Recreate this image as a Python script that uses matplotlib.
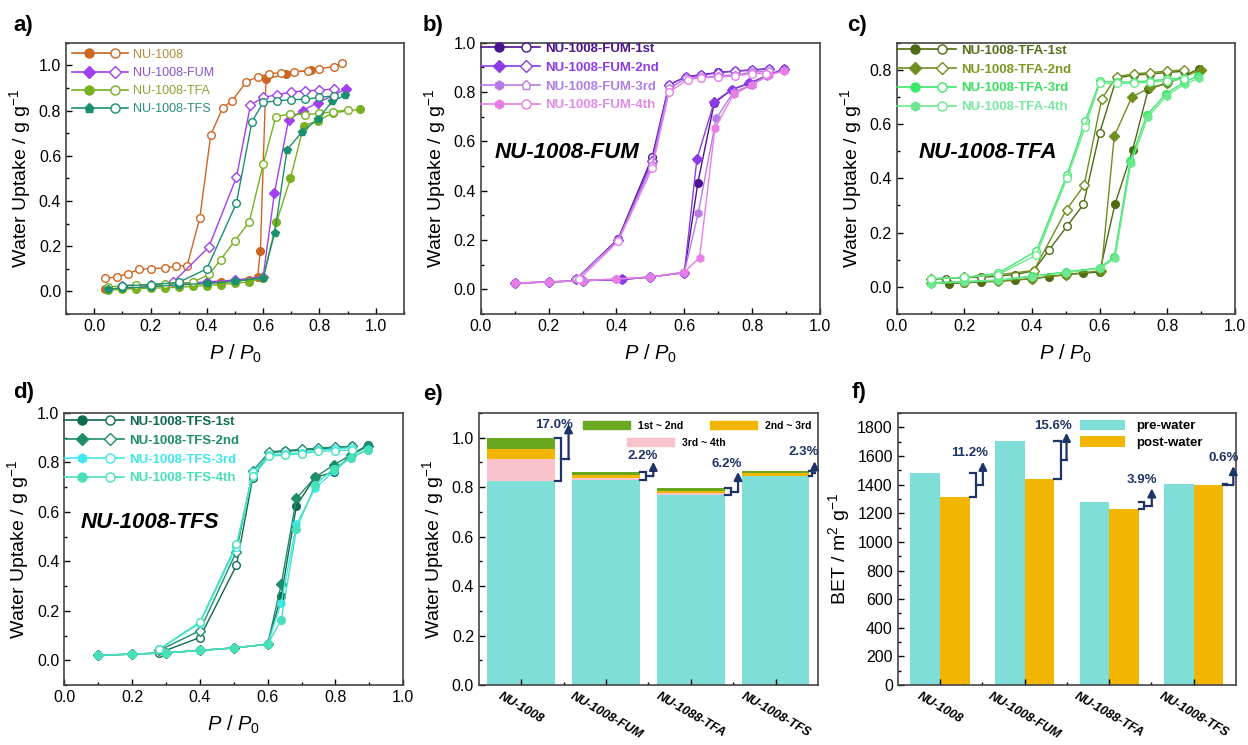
import matplotlib
matplotlib.use("Agg")
import matplotlib.pyplot as plt
import numpy as np
from matplotlib.legend_handler import HandlerBase
from matplotlib.lines import Line2D
from matplotlib.patches import Patch
from matplotlib.ticker import MultipleLocator

plt.rcParams['font.family'] = ['Liberation Sans', 'DejaVu Sans']
plt.rcParams['mathtext.fontset'] = 'custom'
plt.rcParams['mathtext.rm'] = 'Liberation Sans'
plt.rcParams['mathtext.it'] = 'Liberation Sans:italic'
plt.rcParams['mathtext.bf'] = 'Liberation Sans:bold'

# ---------------- panel a: four samples ----------------
a_labels = ['NU-1008', 'NU-1008-FUM', 'NU-1008-TFA', 'NU-1008-TFS']

nu_ads_x = [0.04, 0.1, 0.15, 0.2, 0.25, 0.3, 0.35, 0.4, 0.45, 0.5, 0.55, 0.58, 0.59, 0.61, 0.68, 0.77]
nu_ads_y = [0.01, 0.015, 0.018, 0.022, 0.025, 0.028, 0.032, 0.036, 0.04, 0.045, 0.052, 0.065, 0.177, 0.938, 0.963, 0.98]
nu_des_x = [0.88, 0.85, 0.80, 0.76, 0.71, 0.665, 0.62, 0.583, 0.54, 0.49, 0.456, 0.414, 0.375, 0.33,
            0.29, 0.25, 0.2, 0.16, 0.12, 0.08, 0.04]
nu_des_y = [1.009, 0.994, 0.985, 0.975, 0.972, 0.968, 0.962, 0.95, 0.927, 0.843, 0.811, 0.693, 0.324, 0.114,
            0.111, 0.104, 0.101, 0.097, 0.079, 0.064, 0.058]

fum_ads_x = [0.1, 0.2, 0.3, 0.4, 0.5, 0.6, 0.64, 0.69, 0.74, 0.795, 0.895]
fum_ads_y = [0.025, 0.03, 0.035, 0.042, 0.05, 0.065, 0.435, 0.758, 0.80, 0.835, 0.895]
fum_des_x = [0.85, 0.80, 0.75, 0.70, 0.65, 0.60, 0.555, 0.505, 0.407, 0.28]
fum_des_y = [0.895, 0.89, 0.887, 0.882, 0.87, 0.858, 0.824, 0.504, 0.196, 0.04]

tfa_ads_x = [0.05, 0.1, 0.15, 0.2, 0.25, 0.3, 0.35, 0.4, 0.45, 0.5, 0.55, 0.6, 0.647, 0.697, 0.744, 0.795, 0.848, 0.943]
tfa_ads_y = [0.005, 0.01, 0.012, 0.014, 0.016, 0.018, 0.022, 0.026, 0.03, 0.036, 0.042, 0.06, 0.305, 0.50,
             0.733, 0.755, 0.79, 0.805]
tfa_des_x = [0.90, 0.848, 0.80, 0.75, 0.697, 0.645, 0.60, 0.55, 0.50, 0.449, 0.407, 0.35, 0.3, 0.25, 0.2,
             0.15, 0.1, 0.05]
tfa_des_y = [0.802, 0.795, 0.787, 0.782, 0.785, 0.773, 0.562, 0.305, 0.225, 0.14, 0.075, 0.04, 0.035, 0.032,
             0.03, 0.028, 0.025, 0.02]

tfs_ads_x = [0.05, 0.1, 0.2, 0.3, 0.4, 0.5, 0.6, 0.641, 0.685, 0.737, 0.795, 0.845, 0.89]
tfs_ads_y = [0.01, 0.015, 0.02, 0.03, 0.035, 0.045, 0.06, 0.26, 0.627, 0.704, 0.763, 0.84, 0.867]
tfs_des_x = [0.85, 0.80, 0.75, 0.70, 0.65, 0.60, 0.56, 0.505, 0.40, 0.3, 0.2, 0.1]
tfs_des_y = [0.865, 0.858, 0.85, 0.848, 0.843, 0.836, 0.75, 0.39, 0.10, 0.04, 0.03, 0.025]

# ---------------- panel b: FUM cycles ----------------
b_ads_x = [[0.1, 0.2, 0.3, 0.415, 0.5, 0.6, 0.64, 0.688, 0.74, 0.79, 0.895],
           [0.1, 0.2, 0.3, 0.415, 0.5, 0.6, 0.637, 0.688, 0.74, 0.79, 0.895],
           [0.1, 0.2, 0.3, 0.4, 0.5, 0.6, 0.641, 0.694, 0.745, 0.8, 0.845, 0.895],
           [0.1, 0.2, 0.3, 0.4, 0.5, 0.6, 0.645, 0.69, 0.745, 0.80, 0.85, 0.895]]
b_ads_y = [[0.025, 0.03, 0.035, 0.04, 0.05, 0.068, 0.433, 0.755, 0.81, 0.835, 0.895],
           [0.025, 0.03, 0.035, 0.04, 0.05, 0.068, 0.527, 0.76, 0.81, 0.835, 0.895],
           [0.025, 0.03, 0.035, 0.042, 0.05, 0.068, 0.31, 0.693, 0.80, 0.83, 0.865, 0.89],
           [0.025, 0.03, 0.035, 0.042, 0.05, 0.07, 0.129, 0.653, 0.79, 0.83, 0.87, 0.885]]
b_des_x = [[0.85, 0.80, 0.75, 0.70, 0.65, 0.605, 0.555, 0.505, 0.405, 0.28],
           [0.85, 0.80, 0.75, 0.70, 0.65, 0.605, 0.555, 0.505, 0.405, 0.28],
           [0.85, 0.80, 0.75, 0.70, 0.65, 0.605, 0.555, 0.505, 0.405, 0.28],
           [0.84, 0.80, 0.75, 0.70, 0.65, 0.61, 0.555, 0.505, 0.405, 0.29]]
b_des_y = [[0.895, 0.89, 0.885, 0.88, 0.87, 0.862, 0.83, 0.535, 0.205, 0.04],
           [0.893, 0.888, 0.885, 0.878, 0.868, 0.86, 0.83, 0.52, 0.20, 0.04],
           [0.885, 0.88, 0.87, 0.865, 0.86, 0.855, 0.815, 0.505, 0.20, 0.04],
           [0.875, 0.875, 0.865, 0.86, 0.858, 0.85, 0.80, 0.49, 0.195, 0.04]]

# ---------------- panel c: TFA cycles ----------------
c_ads_x = [[0.1, 0.155, 0.2, 0.25, 0.3, 0.35, 0.4, 0.45, 0.5, 0.55, 0.6, 0.645, 0.697, 0.744, 0.8, 0.894],
           [0.1, 0.2, 0.3, 0.4, 0.5, 0.605, 0.643, 0.695, 0.75, 0.8, 0.9],
           [0.1, 0.2, 0.3, 0.4, 0.5, 0.6, 0.643, 0.69, 0.739, 0.796, 0.85, 0.89],
           [0.1, 0.2, 0.3, 0.4, 0.5, 0.6, 0.645, 0.692, 0.742, 0.798, 0.852, 0.895]]
c_ads_y = [[0.015, 0.012, 0.015, 0.018, 0.02, 0.025, 0.03, 0.038, 0.045, 0.05, 0.055, 0.304, 0.503, 0.73, 0.75, 0.804],
           [0.015, 0.018, 0.022, 0.03, 0.045, 0.06, 0.555, 0.70, 0.735, 0.75, 0.80],
           [0.015, 0.02, 0.025, 0.04, 0.055, 0.07, 0.11, 0.463, 0.632, 0.712, 0.755, 0.777],
           [0.012, 0.018, 0.024, 0.038, 0.052, 0.068, 0.105, 0.455, 0.625, 0.705, 0.748, 0.77]]
c_des_x = [[0.85, 0.80, 0.75, 0.70, 0.65, 0.60, 0.552, 0.503, 0.451, 0.405, 0.35, 0.3, 0.25, 0.2, 0.145, 0.1],
           [0.85, 0.8, 0.75, 0.7, 0.65, 0.606, 0.554, 0.502, 0.405, 0.3, 0.2, 0.1],
           [0.85, 0.8, 0.75, 0.7, 0.65, 0.60, 0.557, 0.503, 0.413, 0.3, 0.2, 0.1],
           [0.85, 0.8, 0.75, 0.7, 0.65, 0.60, 0.557, 0.503, 0.413, 0.3, 0.2, 0.1]]
c_des_y = [[0.795, 0.79, 0.785, 0.78, 0.77, 0.568, 0.304, 0.223, 0.137, 0.06, 0.045, 0.04, 0.035, 0.035, 0.03, 0.028],
           [0.80, 0.795, 0.79, 0.785, 0.775, 0.693, 0.374, 0.285, 0.06, 0.045, 0.035, 0.03],
           [0.77, 0.765, 0.76, 0.755, 0.755, 0.757, 0.61, 0.411, 0.133, 0.05, 0.035, 0.03],
           [0.765, 0.76, 0.755, 0.75, 0.75, 0.75, 0.589, 0.40, 0.118, 0.045, 0.035, 0.03]]

# ---------------- panel d: TFS cycles ----------------
d_ads_x = [0.1, 0.2, 0.3, 0.4, 0.5, 0.6, 0.64, 0.685, 0.74, 0.795, 0.845, 0.895]
d_ads_y = [[0.02, 0.025, 0.03, 0.04, 0.05, 0.065, 0.26, 0.626, 0.74, 0.76, 0.83, 0.87],
           [0.02, 0.025, 0.03, 0.04, 0.05, 0.065, 0.307, 0.655, 0.74, 0.79, 0.83, 0.865],
           [0.02, 0.025, 0.03, 0.04, 0.05, 0.065, 0.233, 0.55, 0.695, 0.765, 0.82, 0.855],
           [0.02, 0.025, 0.03, 0.04, 0.05, 0.065, 0.163, 0.53, 0.71, 0.775, 0.82, 0.85]]
d_des_x = [0.85, 0.80, 0.75, 0.70, 0.65, 0.605, 0.556, 0.508, 0.40, 0.28]
d_des_y = [[0.865, 0.86, 0.855, 0.85, 0.845, 0.84, 0.738, 0.384, 0.092, 0.03],
           [0.865, 0.862, 0.858, 0.853, 0.848, 0.843, 0.765, 0.44, 0.12, 0.04],
           [0.86, 0.855, 0.85, 0.84, 0.835, 0.83, 0.76, 0.46, 0.15, 0.045],
           [0.85, 0.848, 0.845, 0.835, 0.83, 0.825, 0.745, 0.47, 0.155, 0.045]]

cycle_names = ['1st', '2nd', '3rd', '4th']

# ---------------- panel e: cycling loss ----------------
e_cats = ['NU-1008', 'NU-1008-FUM', 'NU-1088-TFA', 'NU-1008-TFS']
e_cycle4 = [0.826, 0.830, 0.767, 0.846]
e_loss34 = [0.088, 0.006, 0.008, 0.001]
e_loss23 = [0.040, 0.013, 0.009, 0.011]
e_loss12 = [0.046, 0.011, 0.011, 0.009]
e_pct = ['17.0%', '2.2%', '6.2%', '2.3%']

# ---------------- panel f: BET ----------------
f_cats = ['NU-1008', 'NU-1008-FUM', 'NU-1088-TFA', 'NU-1008-TFS']
f_pre = [1480, 1705, 1278, 1403]
f_post = [1315, 1440, 1230, 1395]
f_pct = ['11.2%', '15.6%', '3.9%', '0.6%']

CYAN = '#7fded8'
GOLD = '#f2b600'
GREEN = '#6aa820'
PINK = '#f9c3cb'
NAVY = '#1f3466'


class Pair:
    def __init__(self, color, mfilled, mopen):
        self.color = color
        self.mfilled = mfilled
        self.mopen = mopen


class PairHandler(HandlerBase):
    # line with a filled marker on the left and an open one on the right
    def create_artists(self, legend, orig, xdescent, ydescent, width, height, fontsize, trans):
        y = (height - ydescent) / 2
        x0 = -xdescent
        line = Line2D([x0, x0 + width], [y, y], color=orig.color, lw=1.2)
        m1 = Line2D([x0 + 0.3 * width], [y], ls='none', marker=orig.mfilled, ms=6.5,
                    mfc=orig.color, mec=orig.color)
        m2 = Line2D([x0 + 0.77 * width], [y], ls='none', marker=orig.mopen, ms=6.5,
                    mfc='white', mec=orig.color, mew=1.0)
        for art in (line, m1, m2):
            art.set_transform(trans)
        return [line, m1, m2]


def style_axes(ax):
    for s in ax.spines.values():
        s.set_linewidth(1.2)
        s.set_color('#444444')
    ax.tick_params(which='both', direction='in', top=False, right=False, labelsize=11.5, width=1.0)
    ax.tick_params(which='major', length=4)
    ax.tick_params(which='minor', length=2)


def iso_axes(ax, xlim, ylim):
    style_axes(ax)
    ax.set_xlim(*xlim)
    ax.set_ylim(*ylim)
    ax.xaxis.set_major_locator(MultipleLocator(0.2))
    ax.xaxis.set_minor_locator(MultipleLocator(0.1))
    ax.yaxis.set_major_locator(MultipleLocator(0.2))
    ax.yaxis.set_minor_locator(MultipleLocator(0.1))
    ax.set_xlabel(r'$P$ / $P_\mathrm{0}$', fontsize=14.5, labelpad=6)
    ax.set_ylabel(r'Water Uptake / g g$^{-1}$', fontsize=14)


def iso(ax, x, y, color, marker, filled):
    ax.plot(x, y, color=color, lw=1.0, marker=marker, ms=5.5,
            mfc=color if filled else 'white', mec=color, mew=1.0)


def pair_legend(ax, colors, textcolors, mf, mo, labels, anchor, bold):
    handles = [Pair(c, a, b) for c, a, b in zip(colors, mf, mo)]
    leg = ax.legend(handles, labels, handler_map={Pair: PairHandler()}, loc='upper left',
                    bbox_to_anchor=anchor, frameon=False, borderaxespad=0, borderpad=0,
                    handlelength=4.5, handletextpad=0.4, labelspacing=0.5,
                    prop={'size': 9.5 if bold else 9, 'weight': 'bold' if bold else 'normal'})
    for t, c in zip(leg.get_texts(), textcolors):
        t.set_color(c)
    return leg


def bracket(ax, x_edge, y_top, y_bot, xb, xa, y_tip):
    ax.plot([x_edge, xb, xb, x_edge], [y_top, y_top, y_bot, y_bot], color=NAVY, lw=1.6,
            solid_joinstyle='miter')
    ym = (y_top + y_bot) / 2
    ax.plot([xb, xa], [ym, ym], color=NAVY, lw=1.6)
    ax.annotate('', xy=(xa, y_tip), xytext=(xa, ym),
                arrowprops=dict(arrowstyle='-|>', color=NAVY, lw=1.6, mutation_scale=12,
                                shrinkA=0, shrinkB=0))


fig = plt.figure(figsize=(12.48, 7.45), dpi=100)

top_b, top_h = 0.5785, 0.3642
bot_b, bot_h = 0.0805, 0.3651
ax_a = fig.add_axes([0.0529, top_b, 0.2708, top_h])
ax_b = fig.add_axes([0.3852, top_b, 0.2719, top_h])
ax_c = fig.add_axes([0.7185, top_b, 0.2711, top_h])
ax_d = fig.add_axes([0.0515, bot_b, 0.2716, bot_h])
ax_e = fig.add_axes([0.3838, bot_b, 0.2716, bot_h])
ax_f = fig.add_axes([0.7193, bot_b, 0.2711, bot_h])

# ---- a ----
a_colors = ['#cc6622', '#a040f0', '#78b020', '#1a9070']
a_text = ['#b8893a', '#8a4fd8', '#8fa030', '#2a8f7c']
a_mf = ['o', 'D', 'o', 'p']
a_mo = ['o', 'D', 'o', 'o']
a_sets = [(nu_ads_x, nu_ads_y, nu_des_x, nu_des_y), (fum_ads_x, fum_ads_y, fum_des_x, fum_des_y),
          (tfa_ads_x, tfa_ads_y, tfa_des_x, tfa_des_y), (tfs_ads_x, tfs_ads_y, tfs_des_x, tfs_des_y)]
for (ax_, ay_, dx_, dy_), col, mf, mo in zip(a_sets, a_colors, a_mf, a_mo):
    iso(ax_a, ax_, ay_, col, mf, True)
    iso(ax_a, dx_, dy_, col, mo, False)
iso_axes(ax_a, (-0.1, 1.1), (-0.1, 1.1))
pair_legend(ax_a, a_colors, a_text, a_mf, a_mo, a_labels, (0.018, 0.978), False)

# ---- b ----
b_colors = ['#4a1490', '#8c3ce6', '#b87ae6', '#e67ee6']
b_text = ['#4a1490', '#8c3ce6', '#b07ee8', '#e08be6']
b_mf = ['o', 'D', 'h', 'h']
b_mo = ['o', 'D', 'p', 'o']
for i in range(4):
    iso(ax_b, b_ads_x[i], b_ads_y[i], b_colors[i], b_mf[i], True)
    iso(ax_b, b_des_x[i], b_des_y[i], b_colors[i], b_mo[i], False)
iso_axes(ax_b, (0, 1.0), (-0.1, 1.0))
pair_legend(ax_b, b_colors, b_text, b_mf, b_mo, ['NU-1008-FUM-' + c for c in cycle_names], (0, 1.0), True)
ax_b.text(0.04, 0.553, 'NU-1008-FUM', fontsize=16, fontweight='bold', fontstyle='italic', va='center')

# ---- c ----
c_colors = ['#4e6b12', '#6e8e1e', '#3ce86a', '#6ee890']
c_text = ['#55701a', '#7a9a22', '#3ae060', '#7ae8a0']
c_mf = ['o', 'D', 'o', 'h']
c_mo = ['o', 'D', 'o', 'o']
for i in range(4):
    iso(ax_c, c_ads_x[i], c_ads_y[i], c_colors[i], c_mf[i], True)
    iso(ax_c, c_des_x[i], c_des_y[i], c_colors[i], c_mo[i], False)
iso_axes(ax_c, (0, 1.0), (-0.1, 0.9))
pair_legend(ax_c, c_colors, c_text, c_mf, c_mo, ['NU-1008-TFA-' + c for c in cycle_names], (0, 0.993), True)
ax_c.text(0.066, 0.497, 'NU-1008-TFA', fontsize=16, fontweight='bold', fontstyle='italic', va='center')

# ---- d ----
d_colors = ['#0e6b50', '#1e8e6a', '#3ee8ec', '#48e0b8']
d_text = ['#0e6b50', '#1e8e6a', '#3ee8ec', '#48e0b8']
d_mf = ['o', 'D', 'h', 'o']
d_mo = ['o', 'D', 'o', 'o']
for i in range(4):
    iso(ax_d, d_ads_x, d_ads_y[i], d_colors[i], d_mf[i], True)
    iso(ax_d, d_des_x, d_des_y[i], d_colors[i], d_mo[i], False)
iso_axes(ax_d, (0, 1.0), (-0.1, 1.0))
pair_legend(ax_d, d_colors, d_text, d_mf, d_mo, ['NU-1008-TFS-' + c for c in cycle_names], (0, 0.99), True)
ax_d.text(0.049, 0.556, 'NU-1008-TFS', fontsize=16, fontweight='bold', fontstyle='italic', va='center')

# ---- e ----
xe = np.arange(len(e_cats))
c4 = np.array(e_cycle4)
l34 = np.array(e_loss34)
l23 = np.array(e_loss23)
l12 = np.array(e_loss12)
ax_e.bar(xe, c4, width=0.8, color=CYAN)
ax_e.bar(xe, l34, width=0.8, bottom=c4, color=PINK)
ax_e.bar(xe, l23, width=0.8, bottom=c4 + l34, color=GOLD)
ax_e.bar(xe, l12, width=0.8, bottom=c4 + l34 + l23, color=GREEN)
style_axes(ax_e)
ax_e.set_xlim(-0.5, 3.5)
ax_e.set_ylim(0, 1.1)
ax_e.yaxis.set_major_locator(MultipleLocator(0.2))
ax_e.yaxis.set_minor_locator(MultipleLocator(0.1))
ax_e.set_xticks(xe)
ax_e.set_xticks(xe[:-1] + 0.5, minor=True)
ax_e.set_xticklabels(e_cats, rotation=-30, ha='center', fontsize=9, fontweight='bold', fontstyle='italic')
ax_e.set_ylabel(r'Water Uptake / g g$^{-1}$', fontsize=14)

tot = c4 + l34 + l23 + l12
e_xb = [0.07, 0.07, 0.07, 0.03]
e_xa = [0.157, 0.157, 0.157, 0.06]
e_tip = [1.055, 0.903, 0.862, 0.905]
e_txt_y = [1.052, 0.925, 0.894, 0.942]
for i in range(4):
    edge = xe[i] + 0.4
    bracket(ax_e, edge, tot[i], c4[i], edge + e_xb[i], edge + e_xa[i], e_tip[i])
    ax_e.text(edge + e_xa[i] + 0.05, e_txt_y[i], e_pct[i], color=NAVY, fontsize=9.5,
              fontweight='bold', ha='right', va='center')

leg1 = ax_e.legend([Patch(color=GREEN), Patch(color=GOLD)], ['1st ~ 2nd', '2nd ~ 3rd'], ncol=2,
                   loc='center left', bbox_to_anchor=(0.306, 0.953), frameon=False, borderpad=0,
                   borderaxespad=0, handlelength=4.5, handleheight=0.75, handletextpad=0.85,
                   columnspacing=2.5, prop={'size': 7.5, 'weight': 'bold'})
ax_e.add_artist(leg1)
ax_e.legend([Patch(color=PINK)], ['3rd ~ 4th'], loc='center left', bbox_to_anchor=(0.436, 0.891),
            frameon=False, borderpad=0, borderaxespad=0, handlelength=4.5, handleheight=0.75,
            handletextpad=0.85, prop={'size': 7.5, 'weight': 'bold'})

# ---- f ----
xf = np.arange(len(f_cats))
bw = 0.35
ax_f.bar(xf - bw / 2, f_pre, width=bw, color=CYAN, label='pre-water')
ax_f.bar(xf + bw / 2, f_post, width=bw, color=GOLD, label='post-water')
style_axes(ax_f)
ax_f.set_xlim(-0.5, 3.5)
ax_f.set_ylim(0, 1900)
ax_f.yaxis.set_major_locator(MultipleLocator(200))
ax_f.yaxis.set_minor_locator(MultipleLocator(100))
ax_f.set_xticks(xf)
ax_f.set_xticks(xf[:-1] + 0.5, minor=True)
ax_f.set_xticklabels(f_cats, rotation=-30, ha='center', fontsize=9, fontweight='bold', fontstyle='italic')
ax_f.set_ylabel(r'BET / m$^{2}$ g$^{-1}$', fontsize=14)

f_xb = [0.075, 0.075, 0.067, 0.04]
f_xa = [0.157, 0.146, 0.154, 0.118]
f_tip = [1560, 1762, 1374, 1530]
f_txt_y = [1623, 1809, 1432, 1584]
for i in range(4):
    edge = xf[i] + bw
    bracket(ax_f, edge, f_pre[i], f_post[i], edge + f_xb[i], edge + f_xa[i], f_tip[i])
    ax_f.text(edge + f_xa[i] + 0.06, f_txt_y[i], f_pct[i], color=NAVY, fontsize=9.5,
              fontweight='bold', ha='right', va='center')

ax_f.legend(loc='upper left', bbox_to_anchor=(0.539, 0.975), frameon=False, borderpad=0,
            borderaxespad=0, handlelength=3.4, handleheight=0.8, handletextpad=0.85,
            labelspacing=0.3, prop={'size': 9.5, 'weight': 'bold'})

# panel letters
for lab, x, y in [('a)', 0.0104, 0.966), ('b)', 0.339, 0.966), ('c)', 0.679, 0.966),
                  ('d)', 0.0104, 0.4725), ('e)', 0.339, 0.47), ('f)', 0.6827, 0.4725)]:
    fig.text(x, y, lab, fontsize=16, fontweight='bold', ha='left', va='center')

fig.savefig('out.png', dpi=100)
